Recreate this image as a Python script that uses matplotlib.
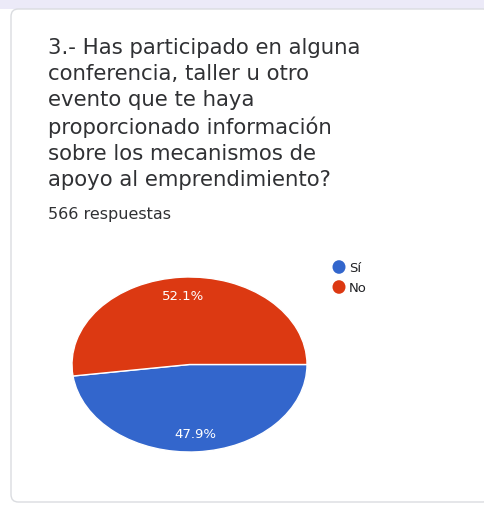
import matplotlib.pyplot as plt
from matplotlib.patches import FancyBboxPatch, Rectangle

# === data ===
labels = ["Sí", "No"]
shares = [47.9, 52.1]
colors = ["#3366cc", "#dc3912"]
question = ("3.- Has participado en alguna\n"
            "conferencia, taller u otro\n"
            "evento que te haya\n"
            "proporcionado información\n"
            "sobre los mecanismos de\n"
            "apoyo al emprendimiento?")
n_responses = "566 respuestas"

W, H = 484, 506
plt.rcParams["font.family"] = ["DejaVu Sans"]

fig = plt.figure(figsize=(W / 100, H / 100), dpi=100)
fig.patch.set_facecolor("white")


def fx(px):
    return px / W


def fy(py):
    return 1 - py / H


# page background band and card
fig.patches.append(Rectangle((0, fy(10)), 1, 1 - fy(10), transform=fig.transFigure,
                             facecolor="#eceaf8", edgecolor="none", zorder=0))
fig.patches.append(FancyBboxPatch((fx(11), fy(503)), fx(490) - fx(11), fy(10) - fy(503),
                                  boxstyle="round,pad=0,rounding_size=0.015",
                                  transform=fig.transFigure, facecolor="white",
                                  edgecolor="#dadce0", linewidth=1, zorder=1))

fig.text(fx(48), fy(38), question, ha="left", va="top", fontsize=15.3,
         color="#303134", linespacing=1.37, zorder=3)
fig.text(fx(48), fy(207), n_responses, ha="left", va="top", fontsize=11.5,
         color="#303134", zorder=3)

# pie (stretched horizontally like the screenshot)
ax = fig.add_axes([fx(72), fy(453), fx(307) - fx(72), fy(278) - fy(453)])
ax.set_zorder(3)
wedges, texts, autotexts = ax.pie(
    shares, colors=colors, startangle=0, counterclock=False,
    autopct="%.1f%%", pctdistance=0.79, radius=1,
    wedgeprops=dict(edgecolor="white", linewidth=1),
    textprops=dict(color="white", fontsize=9.5),
)
ax.set_aspect("auto")
ax.set_xlim(-1, 1)
ax.set_ylim(-1, 1)
ax.axis("off")

# legend
for i, (lab, col) in enumerate(zip(labels, colors)):
    y = 268 + i * 20
    fig.patches.append(plt.Circle((fx(339), fy(y)), 6.5 / W, transform=fig.transFigure,
                                  facecolor=col, edgecolor="none", zorder=3))
    fig.text(fx(349), fy(y), lab, ha="left", va="center", fontsize=9.5,
             color="#202124", zorder=3)

fig.savefig("out.png", dpi=100)
